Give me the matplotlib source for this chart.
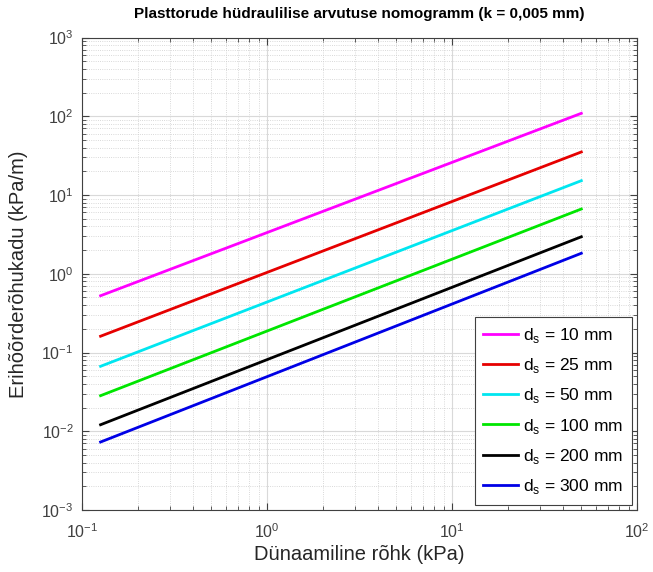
import numpy as np
import matplotlib.pyplot as plt
from matplotlib.ticker import LogLocator, NullFormatter

plt.rcParams['font.family'] = ['Liberation Sans', 'DejaVu Sans']
plt.rcParams['mathtext.fontset'] = 'custom'
plt.rcParams['mathtext.rm'] = 'Liberation Sans'

# start and end of each line
x_start = 0.126
x_end = 50.0
diameters = [10, 25, 50, 100, 200, 300]
y_start = [0.526, 0.161, 0.0668, 0.0283, 0.0121, 0.0073]
y_end = [109, 35.2, 15.2, 6.64, 2.95, 1.82]
colors = ['#ff00ff', '#e60000', '#00e6f0', '#00e600', '#000000', '#0000e6']

fig = plt.figure(figsize=(6.53, 5.72), dpi=100)
ax = fig.add_axes([0.1256, 0.1084, 0.8499, 0.826])

for d, y0, y1, c in zip(diameters, y_start, y_end, colors):
    ax.loglog([x_start, x_end], [y0, y1], color=c, lw=2,
              label=r'd$_\mathregular{s}$ = %d mm' % d)

ax.set_xlim(0.1, 100)
ax.set_ylim(1e-3, 1e3)

ax.xaxis.set_minor_locator(LogLocator(base=10, subs=np.arange(2, 10)))
ax.yaxis.set_minor_locator(LogLocator(base=10, subs=np.arange(2, 10), numticks=20))
ax.yaxis.set_major_locator(LogLocator(base=10, numticks=20))
ax.xaxis.set_minor_formatter(NullFormatter())
ax.yaxis.set_minor_formatter(NullFormatter())

ax.grid(True, which='major', color='#d9d9d9', lw=0.8)
ax.grid(True, which='minor', color='#cccccc', lw=0.6, ls=':')
ax.tick_params(which='both', direction='in', top=True, right=True,
               colors='#404040', labelsize=11.5)
ax.tick_params(axis='x', which='major', pad=9)
ax.tick_params(axis='y', which='major', pad=6)
ax.tick_params(which='major', length=5)
ax.tick_params(which='minor', length=3)
for s in ax.spines.values():
    s.set_color('#404040')
    s.set_linewidth(0.8)

ax.set_title('Plasttorude hüdraulilise arvutuse nomogramm (k = 0,005 mm)',
             fontsize=11, fontweight='bold', pad=14)
ax.set_xlabel('Dünaamiline rõhk (kPa)', fontsize=14.5, color='#262626', labelpad=3)
ax.set_ylabel('Erihõõrderõhukadu (kPa/m)', fontsize=14.5, color='#262626', labelpad=10)

leg = ax.legend(loc='lower right', fontsize=12.5, fancybox=False, framealpha=1,
                edgecolor='#404040', borderaxespad=0.3, handlelength=2.0,
                handletextpad=0.3, labelspacing=0.65, borderpad=0.5)
leg.get_frame().set_linewidth(0.8)

fig.savefig('out.png', dpi=100)
